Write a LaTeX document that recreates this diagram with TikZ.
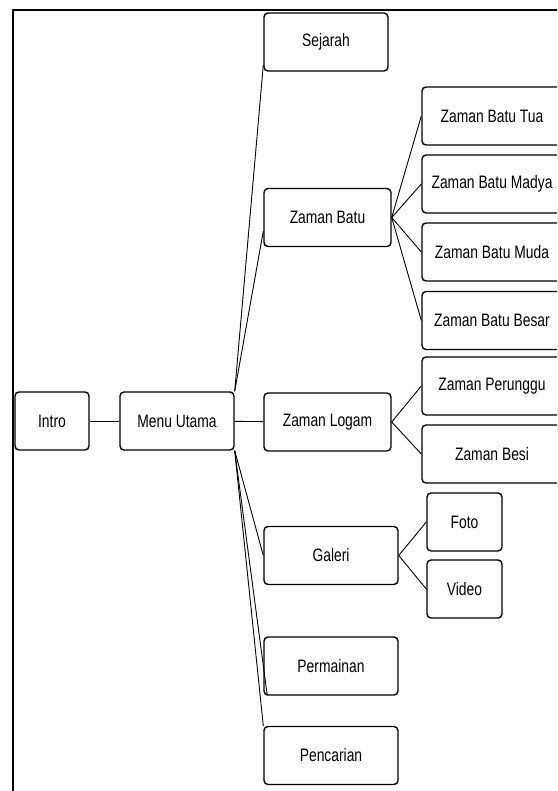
\documentclass[tikz,border=0pt]{standalone}
\usepackage{fontspec}
\setmainfont{Liberation Sans}[FakeStretch=0.77]
\usetikzlibrary{positioning}
\tikzstyle{menubox} = [
    rectangle,
    rounded corners=4pt,
    minimum height=58pt,
    line width=1.4pt,
    draw=black,
    font=\fontsize{18}{21}\selectfont
]
\tikzstyle{link} = [line width=0.9pt]

\begin{document}
\begin{tikzpicture}[x=1pt,y=-1pt]

\clip (0,0) rectangle (557,791);
\fill [white] (0,0) rectangle (557,791);
\draw [line width=1.5pt] (13,800) -- (13,10) -- (570,10);

\node (intro) [menubox, minimum width=74pt] at (52,421) {Intro};
\node (menu) [menubox, minimum width=114pt] at (177,421) {Menu Utama};

\node (sejarah) [menubox, minimum width=124pt] at (326,42) {Sejarah};
\node (batu) [menubox, minimum width=127pt] at (327.5,217.5) {Zaman Batu};
\node (logam) [menubox, minimum width=127pt] at (327.5,422) {Zaman Logam};
\node (galeri) [menubox, minimum width=134pt] at (331,555.5) {Galeri};
\node (permainan) [menubox, minimum width=134pt] at (331,666) {Permainan};
\node (pencarian) [menubox, minimum width=134pt] at (331,755.5) {Pencarian};

\node (tua) [menubox, minimum width=140pt] at (492,116) {Zaman Batu Tua};
\node (madya) [menubox, minimum width=140pt] at (492,184) {Zaman Batu Madya};
\node (muda) [menubox, minimum width=140pt] at (492,252) {Zaman Batu Muda};
\node (besar) [menubox, minimum width=140pt] at (492,320.5) {Zaman Batu Besar};
\node (perunggu) [menubox, minimum width=140pt] at (492,386) {Zaman Perunggu};
\node (besi) [menubox, minimum width=140pt] at (492,454) {Zaman Besi};

\node (foto) [menubox, minimum width=75pt] at (464.5,522) {Foto};
\node (video) [menubox, minimum width=75pt] at (464.5,589) {Video};

\draw [link] (intro) -- (menu);
\draw [link] (menu) -- (logam);
\draw [link] (menu.north east) -- (sejarah.200);
\draw [link] (menu.north east) -- (batu.192);
\draw [link] (menu.south east) -- (galeri.west);
\draw [link] (menu.south east) -- (permainan.205);
\draw [link] (menu.south east) -- (pencarian.north west);

\draw [link] (batu.east) -- (tua.west);
\draw [link] (batu.east) -- (madya.west);
\draw [link] (batu.east) -- (muda.west);
\draw [link] (batu.east) -- (besar.west);

\draw [link] (logam.east) -- (perunggu.west);
\draw [link] (logam.east) -- (besi.west);

\draw [link] (galeri.east) -- (foto.west);
\draw [link] (galeri.east) -- (video.west);

\end{tikzpicture}
\end{document}
